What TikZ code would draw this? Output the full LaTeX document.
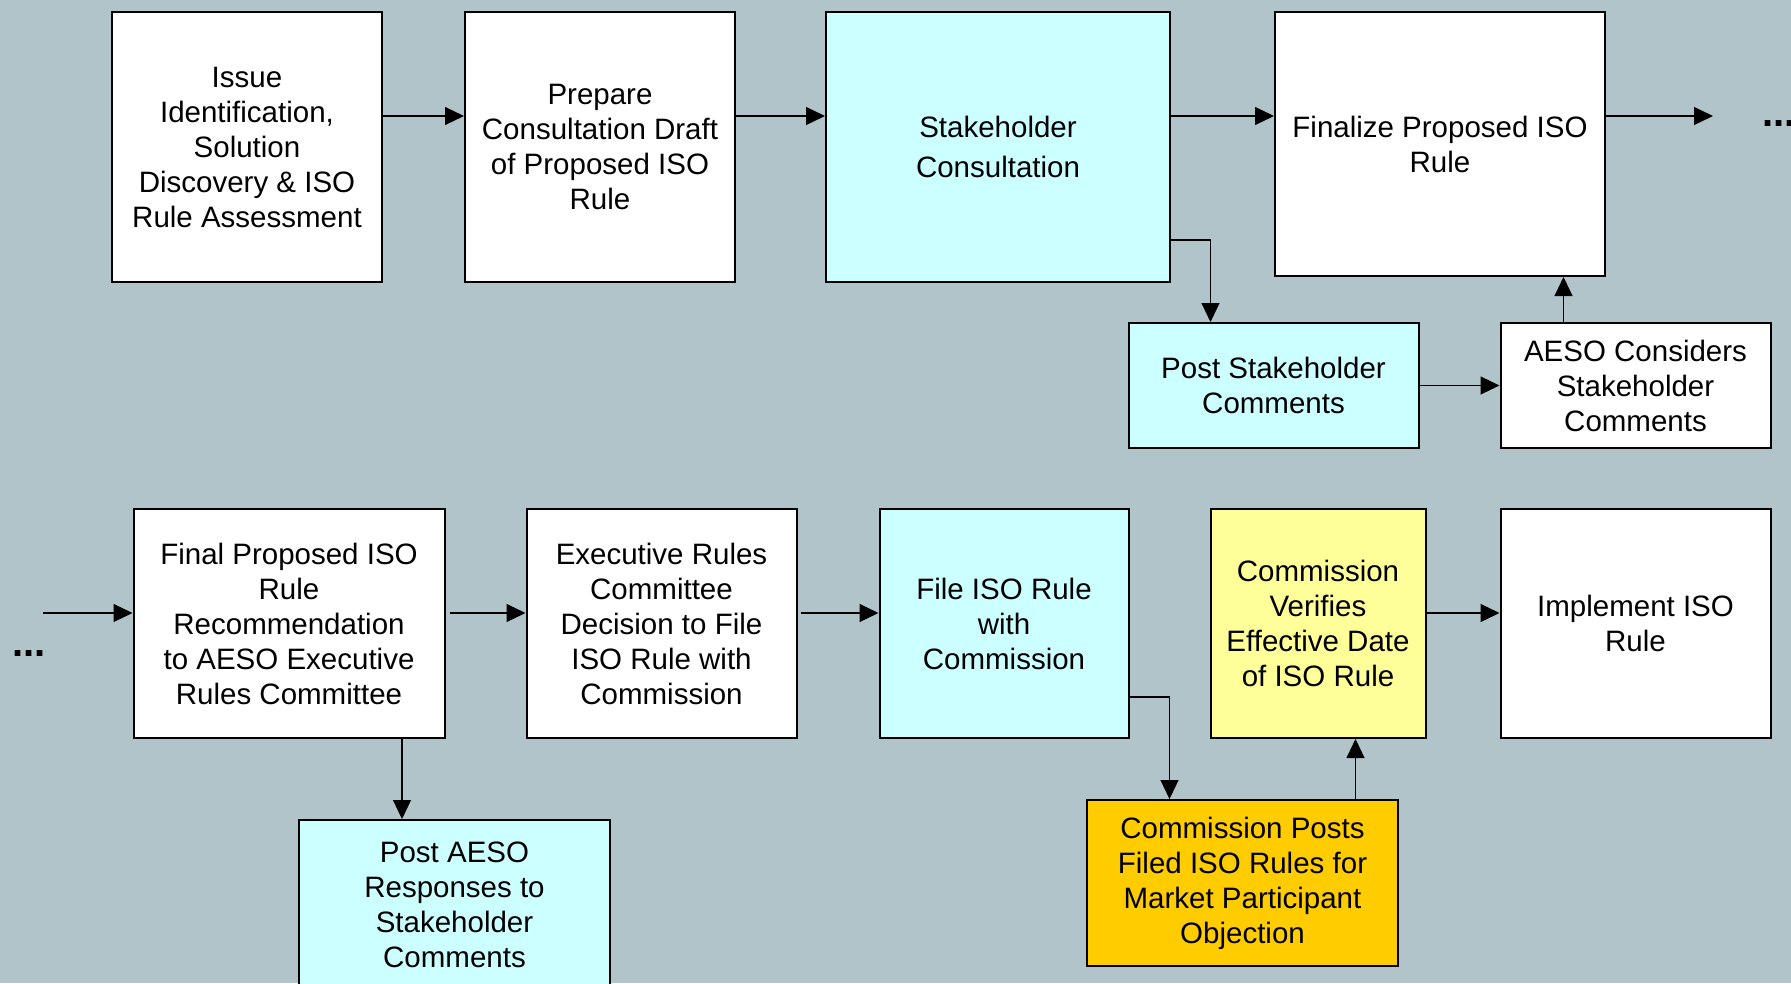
\documentclass[tikz,border=0pt]{standalone}
\usepackage{fontspec}
\setmainfont{Liberation Sans}
\usetikzlibrary{arrows.meta}
\definecolor{bgblue}{RGB}{176,196,202}
\definecolor{paleCyan}{RGB}{204,255,255}
\definecolor{paleYellow}{RGB}{255,255,153}
\definecolor{amber}{RGB}{255,204,0}
\tikzset{box/.style={draw, line width=2pt, fill=#1, align=center,
         font=\fontsize{29.5}{35}\selectfont, inner sep=0pt},
         box/.default={white},
         conn/.style={-{Triangle[length=19pt,width=18pt]}, line width=1.1pt},
         dots/.style={font=\fontsize{40}{40}\selectfont\bfseries, inner sep=0pt}}

\begin{document}
\begin{tikzpicture}[x=1pt,y=-1pt]
  \fill[bgblue] (0,0) rectangle (1791,983);
  \useasboundingbox (0,0) rectangle (1791,983);
  % first row
  \node[box, minimum width=270pt, minimum height=270pt] (issue) at (247,147)
    {Issue\\Identification,\\Solution\\Discovery \& ISO\\Rule Assessment};
  \node[box, minimum width=270pt, minimum height=270pt] (draft) at (600,147)
    {Prepare\\Consultation Draft\\of Proposed ISO\\Rule};
  \node[box=paleCyan, minimum width=344pt, minimum height=270pt] (consult) at (998,147)
    {Stakeholder\\[5pt]Consultation};
  \node[box, minimum width=330pt, minimum height=264pt] (final) at (1440,144)
    {Finalize Proposed ISO\\Rule};
  \node[box=paleCyan, minimum width=290pt, minimum height=125pt] (postsc) at (1273.5,385.5)
    {Post Stakeholder\\Comments};
  \node[box, minimum width=270pt, minimum height=125pt] (considers) at (1635.5,385.5)
    {AESO Considers\\Stakeholder\\Comments};
  \node[dots, anchor=base west] (dotsA) at (1762,126) {...};
  \coordinate (outA) at (1713,116);
  % second row
  \node[box, minimum width=311pt, minimum height=229pt] (recomm) at (289,623.5)
    {Final Proposed ISO\\Rule\\Recommendation\\to AESO Executive\\Rules Committee};
  \node[box, minimum width=270pt, minimum height=229pt] (decide) at (661.5,623.5)
    {Executive Rules\\Committee\\Decision to File\\ISO Rule with\\Commission};
  \node[box=paleCyan, minimum width=249pt, minimum height=229pt] (file) at (1004,623.5)
    {File ISO Rule\\with\\Commission};
  \node[box=paleYellow, minimum width=215pt, minimum height=229pt] (verify) at (1318,623.5)
    {Commission\\Verifies\\Effective Date\\of ISO Rule};
  \node[box, minimum width=270pt, minimum height=229pt] (implement) at (1635.5,623.5)
    {Implement ISO\\Rule};
  \node[box=paleCyan, minimum width=311pt, minimum height=170pt] (postresp) at (454.5,905)
    {Post AESO\\Responses to\\Stakeholder\\Comments};
  \node[box=amber, minimum width=311pt, minimum height=166pt] (posts) at (1242.5,883)
    {Commission Posts\\Filed ISO Rules for\\Market Participant\\Objection};
  \node[dots, anchor=base west] (dotsB) at (12,656) {...};
  \coordinate (inB) at (43,613);

  \draw[conn] ([yshift=31pt]issue.east) -- ([yshift=31pt]draft.west);
  \draw[conn] ([yshift=31pt]draft.east) -- ([yshift=31pt]consult.west);
  \draw[conn] ([yshift=31pt]consult.east) -- ([yshift=28pt]final.west);
  \draw[conn] ([yshift=28pt]final.east) -- (outA);
  \draw[conn] ([yshift=-93pt]consult.east) -| ([xshift=-63pt]postsc.north);
  \draw[conn] (postsc.east) -- (considers.west);
  \draw[conn] ([xshift=-72pt]considers.north) coordinate (upA) -- (upA |- final.south);
  \draw[conn] (inB) -- ([yshift=10.5pt]recomm.west);
  \draw[conn] ([xshift=4pt,yshift=10.5pt]recomm.east) -- ([yshift=10.5pt]decide.west);
  \draw[conn] ([xshift=3pt,yshift=10.5pt]decide.east) -- ([yshift=10.5pt]file.west);
  \draw[conn] ([yshift=10.5pt]verify.east) -- ([yshift=10.5pt]implement.west);
  \draw[conn] ([xshift=113pt]recomm.south) coordinate (downB) -- (downB |- postresp.north);
  \draw[conn] ([yshift=-73.5pt]file.east) -| ([xshift=-73pt]posts.north);
  \draw[conn] ([xshift=113pt]posts.north) coordinate (upB) -- (upB |- verify.south);
\end{tikzpicture}
\end{document}
